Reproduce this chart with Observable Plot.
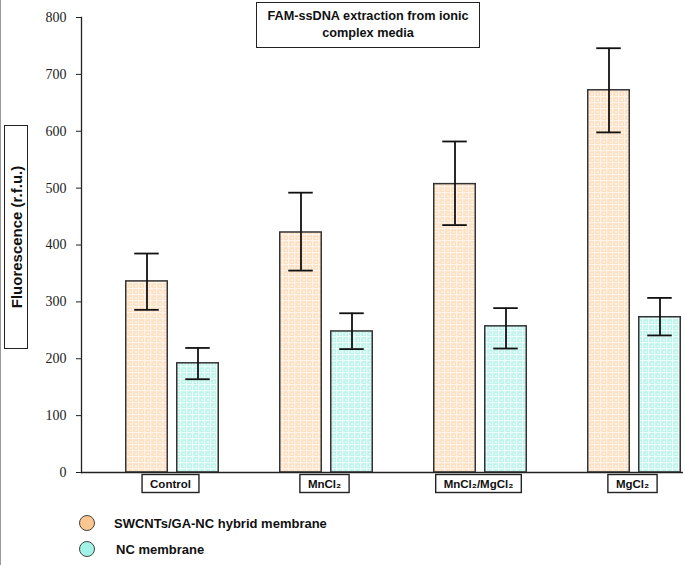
<!DOCTYPE html>
<html>
<head>
<meta charset="utf-8">
<script src="https://cdn.jsdelivr.net/npm/d3@7"></script>
<script src="https://cdn.jsdelivr.net/npm/@observablehq/plot@0.6"></script>
<style>
  body { margin: 0; background: #fff; }
  #wrap { position: relative; width: 685px; height: 565px; overflow: hidden; font-family: "Liberation Sans", Arial, sans-serif; }
  #wrap::before { content: ""; position: absolute; left: 0; top: 0; bottom: 0; width: 1px; background: #999; }
  .box { position: absolute; border: 1.5px solid #222; box-sizing: border-box; background: #fff; font-weight: bold; color: #111; }
  #title { left: 256px; top: 2px; width: 224px; height: 46px; font-size: 12.7px; line-height: 17px; text-align: center; padding-top: 5px; }
  #ylab { left: 4px; top: 125px; width: 24px; height: 224px; }
  #ylab span { position: absolute; left: 50%; top: 50%; transform: translate(-50%, -50%) rotate(-90deg); white-space: nowrap; font-size: 15px; }
  #legend { position: absolute; left: 0; top: 505px; width: 685px; height: 60px; }
  .li { position: absolute; display: flex; align-items: center; font-weight: bold; font-size: 13px; color: #111; }
  .dot { width: 16px; height: 16px; border-radius: 50%; border: 1.3px solid #444; box-sizing: border-box; margin-right: 19px; }
</style>
</head>
<body>
<div id="wrap">
  <div id="chart"></div>
  <div id="title" class="box">FAM-ssDNA extraction from ionic<br>complex media</div>
  <div id="ylab" class="box"><span>Fluorescence (r.f.u.)</span></div>
  <div id="legend"></div>
</div>
<script>
const categories = ["Control", "MnCl₂", "MnCl₂/MgCl₂", "MgCl₂"];
const series = ["SWCNTs/GA-NC hybrid membrane", "NC membrane"];
const hybridMean = [336, 422, 507, 672];
const hybridLow  = [286, 355, 435, 598];
const hybridHigh = [385, 492, 582, 746];
const ncMean = [192, 248, 257, 273];
const ncLow  = [164, 217, 218, 241];
const ncHigh = [219, 280, 289, 307];
const yTicks = [0, 100, 200, 300, 400, 500, 600, 700, 800];
const legendColors = ["#fcc690", "#a2f2e6"];

const hybrid = categories.map((c, i) => ({cat: c, mean: hybridMean[i], low: hybridLow[i], high: hybridHigh[i]}));
const nc = categories.map((c, i) => ({cat: c, mean: ncMean[i], low: ncLow[i], high: ncHigh[i]}));

// band half-width 77.25; bars 42 wide, offset 4.5 from the centre
const H = 77.25, G = 4.5, BW = 42, CAP = 12.5;
const oL = H - G - BW, oR = H + G;           // orange bar insets
const oC = -(G + BW / 2), tC = G + BW / 2;  // bar centre offsets

const errMarks = (data, off) => [
  Plot.ruleX(data, {x: "cat", y1: "low", y2: "high", dx: off, stroke: "#111", strokeWidth: 1.8}),
  Plot.tickY(data, {x: "cat", y: "low", insetLeft: H + off - CAP, insetRight: H - off - CAP, stroke: "#111", strokeWidth: 1.8}),
  Plot.tickY(data, {x: "cat", y: "high", insetLeft: H + off - CAP, insetRight: H - off - CAP, stroke: "#111", strokeWidth: 1.8})
];

const chart = Plot.plot({
  width: 685,
  height: 505,
  marginLeft: 81,
  marginRight: 2,
  marginTop: 17,
  marginBottom: 33,
  style: {background: "transparent", overflow: "visible"},
  x: {domain: categories, range: [94.25, 712.25], padding: 0, axis: null},
  y: {domain: [0, 800], axis: null},
  marks: [
    Plot.barY(hybrid, {x: "cat", y: "mean", fill: "url(#patO)", stroke: "#333", strokeWidth: 1.5, insetLeft: oL, insetRight: oR}),
    Plot.barY(nc, {x: "cat", y: "mean", fill: "url(#patT)", stroke: "#333", strokeWidth: 1.5, insetLeft: oR, insetRight: oL}),
    ...errMarks(hybrid, oC),
    ...errMarks(nc, tC),
    Plot.ruleY([0], {stroke: "#222", strokeWidth: 1.3}),
    Plot.frame({anchor: "left", stroke: "#222", strokeWidth: 1.3}),
    Plot.axisY({ticks: yTicks, tickSize: 5, tickPadding: 10, label: null, fontSize: 14, stroke: "#222", fill: "#222"}),
    Plot.text(categories, {x: d => d, frameAnchor: "bottom", dy: 15, dx: -2, className: "xlab", fontFamily: "Liberation Sans, Arial, sans-serif", fontWeight: "bold", fontSize: 11.5, fill: "#111"})
  ]
});

document.getElementById("chart").appendChild(chart);

// serif tick labels on the y axis
chart.querySelectorAll('g[aria-label="y-axis tick label"]').forEach(g => {
  g.style.fontFamily = '"Liberation Serif", "Times New Roman", serif';
  g.setAttribute("font-family", '"Liberation Serif", "Times New Roman", serif');
  g.querySelectorAll("text").forEach(t => t.style.fontFamily = '"Liberation Serif", "Times New Roman", serif');
});

// patterns
const ns = "http://www.w3.org/2000/svg";
const defs = document.createElementNS(ns, "defs");
defs.innerHTML = `
  <pattern id="patO" patternUnits="userSpaceOnUse" width="6" height="6">
    <rect width="6" height="6" fill="#fde0c2"/>
    <rect x="0" y="0" width="6" height="1.2" fill="#fff4e9"/>
    <rect x="0" y="0" width="1.2" height="6" fill="#fff4e9"/>
    <rect x="3" y="3" width="2" height="2" fill="#fff1e2"/>
  </pattern>
  <pattern id="patT" patternUnits="userSpaceOnUse" width="6" height="6">
    <rect width="6" height="6" fill="#bff4ec"/>
    <rect x="0" y="0" width="6" height="1.2" fill="#ecfcf9"/>
    <rect x="0" y="0" width="1.2" height="6" fill="#ecfcf9"/>
    <rect x="3" y="3" width="2" height="2" fill="#e3fbf6"/>
  </pattern>`;
chart.insertBefore(defs, chart.firstChild);

// boxes around category labels
chart.querySelectorAll(".xlab text").forEach(t => {
  const b = t.getBBox();
  const r = document.createElementNS(ns, "rect");
  r.setAttribute("x", b.x - 8);
  r.setAttribute("y", b.y - 3);
  r.setAttribute("width", b.width + 16);
  r.setAttribute("height", b.height + 6);
  r.setAttribute("fill", "#fff");
  r.setAttribute("stroke", "#222");
  r.setAttribute("stroke-width", 1.4);
  if (t.getAttribute("transform")) r.setAttribute("transform", t.getAttribute("transform"));
  t.parentNode.insertBefore(r, t);
});

// legend
const leg = document.getElementById("legend");
series.forEach((s, i) => {
  const d = document.createElement("div");
  d.className = "li";
  d.style.left = "79px";
  d.style.top = (i === 0 ? 10 : 36) + "px";
  d.innerHTML = `<div class="dot" style="background:${legendColors[i]}"></div><span style="margin-left:${i === 0 ? 0 : 2}px">${s}</span>`;
  leg.appendChild(d);
});
</script>
</body>
</html>
